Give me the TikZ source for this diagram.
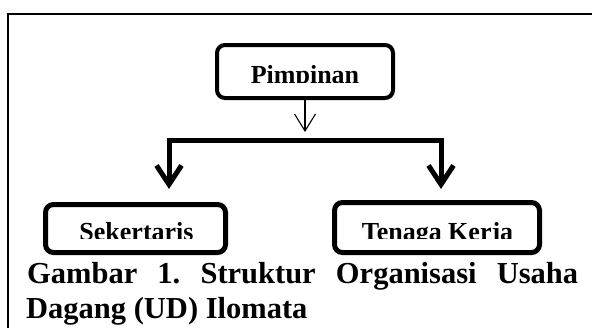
\documentclass[tikz,border=0pt]{standalone}
\usepackage{fontspec}
\setmainfont{Liberation Serif}
\usetikzlibrary{arrows.meta}
\tikzset{
  boxshape/.style={draw, rounded corners=8pt, inner sep=0pt},
  boxtext/.style={font=\fontsize{26}{26}\selectfont\bfseries, anchor=base, inner sep=0pt},
  captext/.style={font=\fontsize{30.5}{30.5}\selectfont\bfseries, anchor=base west, inner sep=0pt},
  thinarrow/.style={line width=1.1pt, -{Straight Barb[length=17pt,width=21pt,line width=1.1pt]}},
  bigarrow/.style={line width=5pt, line join=miter,
    {Straight Barb[length=19pt,width=25pt,line width=5pt]}-{Straight Barb[length=19pt,width=25pt,line width=5pt]}}
}
\begin{document}
\begin{tikzpicture}[x=1pt,y=-1pt]
\useasboundingbox (0,0) rectangle (592,327);
\clip (0,0) rectangle (592,327);
% outer frame (continues beyond the picture)
\draw[line width=2pt] (8,345) -- (8,14) -- (610,14);
% boxes
\node[boxshape, line width=4pt, minimum width=176pt, minimum height=53pt] (pim) at (305,71.5) {};
\node[boxshape, line width=5pt, minimum width=180pt, minimum height=48pt] (sek) at (135.5,228.5) {};
\node[boxshape, line width=5pt, minimum width=205pt, minimum height=50pt] (ten) at (437,227.5) {};
% clipped box texts
\begin{scope}
\clip (200,50) rectangle (410,82.5);
\node[boxtext] (pimtext) at (305,83) {Pimpinan};
\end{scope}
\begin{scope}
\clip (50,205) rectangle (540,238.5);
\node[boxtext] (sektext) at (136.5,240) {Sekertaris};
\node[boxtext] (tentext) at (437.5,240) {Tenaga Kerja};
\end{scope}
% connectors
\coordinate (pimtip) at (pim.south |- 0,132);
\draw[thinarrow] (pim.south) -- (pimtip);
\coordinate (ltip) at (169,189);
\coordinate (rtip) at (441,189);
\coordinate (hmid) at (305,140);
\draw[bigarrow] (ltip) |- (hmid) -| (rtip);
% caption
\node[captext] (cap1) at (27,283) {\makebox[551pt][s]{Gambar\hfill 1.\hfill Struktur\hfill Organisasi\hfill Usaha}};
\node[captext] (cap2) at (26,318) {Dagang (UD) Ilomata};
\end{tikzpicture}
\end{document}
